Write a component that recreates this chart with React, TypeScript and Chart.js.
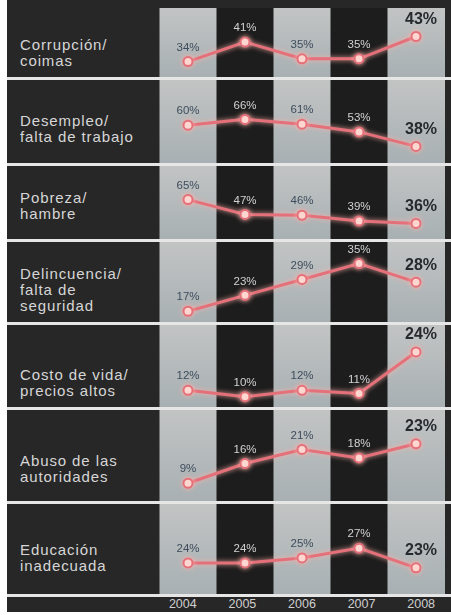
import React, { useEffect, useRef } from "react";
import { Chart, registerables } from "chart.js";

Chart.register(...registerables);

// ---- data ----
const years = ["2004", "2005", "2006", "2007", "2008"];
const topics = [
  "Corrupción/\ncoimas",
  "Desempleo/\nfalta de trabajo",
  "Pobreza/\nhambre",
  "Delincuencia/\nfalta de\nseguridad",
  "Costo de vida/\nprecios altos",
  "Abuso de las\nautoridades",
  "Educación\ninadecuada",
];
const corrupcion = [34, 41, 35, 35, 43];
const desempleo = [60, 66, 61, 53, 38];
const pobreza = [65, 47, 46, 39, 36];
const delincuencia = [17, 23, 29, 35, 28];
const costoVida = [12, 10, 12, 11, 24];
const abuso = [9, 16, 21, 18, 23];
const educacion = [24, 24, 25, 27, 23];
const series = [corrupcion, desempleo, pobreza, delincuencia, costoVida, abuso, educacion];

// ---- layout ----
const PANEL_TOP = [8, 80, 166, 242, 325, 410, 504];
const PANEL_BOTTOM = [77, 163, 239, 322, 407, 501, 594];
const Y_RANGE: [number, number][] = [
  [30.8, 50.9],
  [27.5, 100.1],
  [25, 98],
  [15.4, 40.7],
  [8.8, 30.4],
  [5, 32.7],
  [19, 34.65],
];
const LABEL_SHIFT = [10, 7, 3, 8, 17, 13, 9];
const PLOT_LEFT = 153;
const PLOT_WIDTH = 298;

const stripesPlugin = {
  id: "stripes",
  beforeDraw(chart: any) {
    const { ctx, scales, height } = chart;
    const x = scales.x;
    const n = x.ticks.length;
    const w = x.width / n;
    for (let i = 0; i < n; i++) {
      const cx = x.getPixelForValue(i);
      if (i % 2 === 0) {
        const g = ctx.createLinearGradient(0, 0, 0, height);
        g.addColorStop(0, "#c2c4c4");
        g.addColorStop(1, "#a8b0b3");
        ctx.fillStyle = g;
      } else {
        ctx.fillStyle = "#1d1d1d";
      }
      ctx.fillRect(cx - w / 2, 0, w + 0.5, height);
    }
  },
};

const glowPlugin = {
  id: "glow",
  beforeDatasetDraw(chart: any) {
    const ctx = chart.ctx;
    ctx.save();
    ctx.shadowColor = "rgba(255,175,170,0.9)";
    ctx.shadowBlur = 5;
  },
  afterDatasetDraw(chart: any) {
    chart.ctx.restore();
  },
};

const valueLabelPlugin = {
  id: "valueLabels",
  afterDatasetsDraw(chart: any) {
    const { ctx } = chart;
    const meta = chart.getDatasetMeta(0);
    const data = chart.data.datasets[0].data as number[];
    ctx.save();
    ctx.textAlign = "center";
    ctx.textBaseline = "middle";
    meta.data.forEach((pt: any, i: number) => {
      const txt = data[i] + "%";
      if (i === data.length - 1) {
        ctx.font = "bold 16px 'Liberation Sans', Arial, sans-serif";
        ctx.fillStyle = "#262a2e";
        ctx.fillText(txt, pt.x + 5, pt.y - 17);
      } else {
        ctx.font = "11.5px 'Liberation Sans', Arial, sans-serif";
        ctx.fillStyle = i % 2 === 0 ? "#3d4c5c" : "#d2d2d2";
        ctx.fillText(txt, pt.x, pt.y - 14);
      }
    });
    ctx.restore();
  },
};

function Panel({ index }: { index: number }) {
  const ref = useRef<HTMLCanvasElement | null>(null);
  const h = PANEL_BOTTOM[index] - PANEL_TOP[index];
  useEffect(() => {
    if (!ref.current) return;
    const chart = new Chart(ref.current, {
      type: "line",
      data: {
        labels: years,
        datasets: [
          {
            data: series[index],
            borderColor: "#e4707a",
            borderWidth: 3,
            pointRadius: 4.5,
            pointBackgroundColor: "#fde6df",
            pointBorderColor: "#e4707a",
            pointBorderWidth: 2,
            tension: 0,
            clip: false as any,
          },
        ],
      },
      options: {
        responsive: false,
        maintainAspectRatio: false,
        animation: false,
        layout: { padding: 0 },
        plugins: { legend: { display: false }, tooltip: { enabled: false } },
        scales: {
          x: { type: "category", offset: true, display: false },
          y: { display: false, min: Y_RANGE[index][0], max: Y_RANGE[index][1] },
        },
      },
      plugins: [stripesPlugin, glowPlugin, valueLabelPlugin],
    });
    return () => chart.destroy();
  }, [index]);

  const lines = topics[index].split("\n");
  return (
    <div
      style={{
        position: "absolute",
        left: 7,
        top: PANEL_TOP[index],
        width: 444,
        height: h,
      }}
    >
      <div
        style={{
          position: "absolute",
          left: 13,
          top: h / 2 + LABEL_SHIFT[index],
          transform: "translateY(-50%)",
          color: "#d6d6d6",
          fontFamily: "'Liberation Sans', Arial, sans-serif",
          fontSize: 15,
          lineHeight: "16px",
          letterSpacing: 0.9,
          whiteSpace: "nowrap",
        }}
      >
        {lines.map((l, k) => (
          <div key={k}>{l}</div>
        ))}
      </div>
      <canvas
        ref={ref}
        width={PLOT_WIDTH}
        height={h}
        style={{ position: "absolute", left: PLOT_LEFT - 7, top: 0, width: PLOT_WIDTH, height: h }}
      />
    </div>
  );
}

export default function App() {
  return (
    <div style={{ position: "absolute", left: 0, top: 0, width: 451, height: 615, background: "#ffffff", overflow: "hidden" }}>
      <div style={{ position: "absolute", left: 7, top: 0, width: 444, height: 612, background: "#272727" }} />
      {series.map((_, i) => (
        <Panel key={i} index={i} />
      ))}
      {PANEL_BOTTOM.map((b, i) => (
        <div
          key={"sep" + i}
          style={{ position: "absolute", left: 7, top: b, width: 444, height: 3, background: "#e6e6e6" }}
        />
      ))}
      <div
        style={{
          position: "absolute",
          left: PLOT_LEFT,
          top: 597,
          width: PLOT_WIDTH,
          height: 15,
          display: "flex",
          fontFamily: "'Liberation Sans', Arial, sans-serif",
          fontSize: 12.5,
          color: "#cfcfcf",
          lineHeight: "15px",
        }}
      >
        {years.map((y) => (
          <div key={y} style={{ flex: 1, textAlign: "center" }}>
            {y}
          </div>
        ))}
      </div>
    </div>
  );
}
